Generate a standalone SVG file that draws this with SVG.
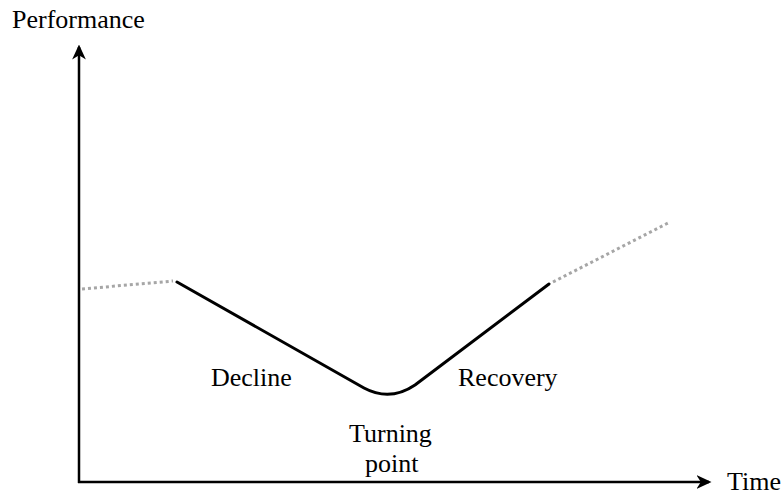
<svg xmlns="http://www.w3.org/2000/svg" width="783" height="495" viewBox="0 0 783 495">
  <style>
    .label { font-family: "Liberation Serif", "Times New Roman", serif; font-size: 26px; fill: #000; }
    .axis { stroke: #000; stroke-width: 2.5; fill: none; }
    .trend { stroke: #000; stroke-width: 3; fill: none; stroke-linecap: round; stroke-linejoin: round; }
    .extension { stroke: #a6a6a6; stroke-width: 3; fill: none; stroke-dasharray: 3 3; }
  </style>
  <defs>
    <marker id="arrowhead" viewBox="0 0 12 12" refX="10" refY="6" markerWidth="6" markerHeight="6" markerUnits="strokeWidth" orient="auto">
      <path d="M0,0.5 L12,6 L0,11.5 L3.5,6 Z" fill="#000"/>
    </marker>
  </defs>
  <rect width="783" height="495" fill="#fff"/>

  <g id="axes">
    <line class="axis" x1="79" y1="483" x2="79" y2="47" marker-end="url(#arrowhead)"/>
    <line class="axis" x1="78" y1="482" x2="709" y2="482" marker-end="url(#arrowhead)"/>
    <text class="label" x="12" y="28">Performance</text>
    <text class="label" x="727" y="490">Time</text>
  </g>

  <g id="connectors">
    <line class="extension" x1="82" y1="289" x2="173" y2="281"/>
    <path class="trend" d="M177,282 L364,388 Q390,402 415,385 L549,284"/>
    <line class="extension" x1="553" y1="282" x2="670" y2="222"/>
  </g>

  <g id="decline">
    <text class="label" x="211" y="386">Decline</text>
  </g>
  <g id="turning-point">
    <text class="label" x="349" y="442">Turning</text>
    <text class="label" x="365" y="472">point</text>
  </g>
  <g id="recovery">
    <text class="label" x="458" y="386">Recovery</text>
  </g>
</svg>
